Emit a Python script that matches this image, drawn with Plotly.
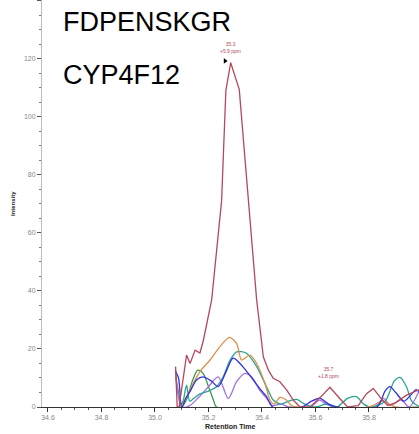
import plotly.graph_objects as go

# ---- data ----
red_x = [35.077, 35.083, 35.09, 35.118, 35.131, 35.15, 35.168, 35.181, 35.212, 35.249, 35.265, 35.283,
         35.315, 35.349, 35.38, 35.405, 35.424, 35.442, 35.467, 35.492, 35.517, 35.542, 35.58, 35.62,
         35.654, 35.69, 35.72, 35.76, 35.79, 35.816, 35.845, 35.87, 35.9, 35.94, 35.99]
red_y = [13.9, 0, 0, 17.9, 15, 19.6, 18.6, 23, 37, 71, 109, 118.6,
         109.4, 71.3, 37, 17.3, 12.7, 9.9, 8.7, 5.9, 2.4, 0, 0, 3.5,
         6.8, 3, 0, 0.5, 4.5, 6.4, 3, 0.5, 1.5, 4.1, 6]

orange_x = [35.09, 35.11, 35.131, 35.168, 35.206, 35.243, 35.278, 35.305, 35.324, 35.355, 35.38, 35.411,
            35.43, 35.445, 35.467, 35.49, 35.51, 35.53, 35.8, 35.85, 35.9, 35.99]
orange_y = [0, 2, 5.9, 12.2, 16.2, 20.8, 24, 21.9, 16.2, 17.9, 15, 8.2,
            2.4, 1, 3.3, 2.5, 0.5, 0, 0, 2, 0, 0]

teal_x = [35.09, 35.105, 35.118, 35.13, 35.145, 35.168, 35.2, 35.23, 35.255, 35.28, 35.305, 35.342,
          35.38, 35.417, 35.442, 35.47, 35.5, 35.53, 35.56, 35.6, 35.64, 35.68, 35.72, 35.753,
          35.78, 35.81, 35.86, 35.895, 35.916, 35.94, 35.96, 35.99]
teal_y = [0, 2, 7.5, 2, 3, 4.5, 5.5, 7, 10.4, 16, 19, 18.5,
          13.9, 7, 2.4, 1, 2, 2.6, 1, 0, 1, 0, 3, 3.6,
          1, 0, 2, 9, 10.2, 7, 2, 0]

blue_x = [35.077, 35.088, 35.1, 35.115, 35.135, 35.155, 35.18, 35.21, 35.236, 35.265, 35.292, 35.318,
          35.345, 35.368, 35.395, 35.417, 35.44, 35.55, 35.585, 35.617, 35.65, 35.68, 35.83, 35.86,
          35.878, 35.9, 35.93, 35.955, 35.976, 35.99]
blue_y = [12.2, 10, 0, 3, 6, 9.3, 10.4, 9, 7, 12, 16.8, 15,
          12, 9.3, 6, 3.6, 0, 0, 2, 3, 1, 0, 0, 5.5,
          7, 5, 2, 4, 6, 5]

purple_x = [35.077, 35.1, 35.13, 35.16, 35.2, 35.236, 35.274, 35.305, 35.336, 35.36, 35.39, 35.417,
            35.44, 35.47, 35.5, 35.58, 35.615, 35.64, 35.67, 35.82, 35.855, 35.88, 35.92, 35.95, 35.99]
purple_y = [12.7, 0, 0.5, 3, 7, 10.4, 3, 8.7, 11.6, 10.5, 6, 3,
            0.5, 1, 0, 0, 2.4, 1, 0, 0, 3, 0.5, 2.5, 0, 6]

green_x = [35.077, 35.09, 35.1, 35.12, 35.14, 35.16, 35.18, 35.2, 35.22, 35.23, 35.99]
green_y = [10.4, 4, 0, 3, 9, 12.7, 11.6, 7, 2, 0, 0]

series = [
    ("green", green_x, green_y, "#3a9a4a", "spline"),
    ("purple", purple_x, purple_y, "#a070e0", "spline"),
    ("teal", teal_x, teal_y, "#2aa391", "spline"),
    ("orange", orange_x, orange_y, "#d9914a", "spline"),
    ("blue", blue_x, blue_y, "#3333dd", "spline"),
    ("red", red_x, red_y, "#b5485a", "linear"),
]

peak_labels = [(35.283, 121.0, "35.3<br>+5.9 ppm"), (35.647, 9.0, "35.7<br>+1.8 ppm")]
marker_pos = ([35.262], [119.2])

fig = go.Figure()
for name, xs, ys, col, shape in series:
    fig.add_trace(go.Scatter(x=xs, y=ys, mode="lines", name=name,
                             line=dict(color=col, width=1.3, shape=shape, smoothing=0.8),
                             showlegend=False, hoverinfo="skip"))

fig.add_trace(go.Scatter(x=marker_pos[0], y=marker_pos[1], mode="markers",
                         marker=dict(symbol="triangle-right", size=5, color="black"),
                         showlegend=False, hoverinfo="skip"))

annotations = []
for x, y, t in peak_labels:
    annotations.append(dict(x=x, y=y, xref="x", yref="y", text=t, showarrow=False,
                            yanchor="bottom", xanchor="center",
                            font=dict(size=5, color="#b5485a", family="Liberation Sans, Arial")))

annotations += [
    dict(x=0.0505, y=0.946, xref="paper", yref="paper", text="FDPENSKGR", showarrow=False,
         xanchor="left", yanchor="middle", font=dict(size=27, color="black", family="Liberation Sans, Arial")),
    dict(x=0.0505, y=0.815, xref="paper", yref="paper", text="CYP4F12", showarrow=False,
         xanchor="left", yanchor="middle", font=dict(size=27, color="black", family="Liberation Sans, Arial")),
    dict(x=0.5, y=-0.047, xref="paper", yref="paper", text="<b>Retention Time</b>", showarrow=False,
         xanchor="center", yanchor="middle", font=dict(size=7, color="#222", family="Liberation Sans, Arial")),
    dict(x=-0.078, y=0.5, xref="paper", yref="paper", text="<b>Intensity</b>", showarrow=False,
         textangle=-90, xanchor="center", yanchor="middle",
         font=dict(size=6, color="#222", family="Liberation Sans, Arial")),
]

fig.update_layout(
    width=419, height=434,
    margin=dict(l=42, r=0, t=0, b=27),
    paper_bgcolor="white", plot_bgcolor="white",
    annotations=annotations,
    xaxis=dict(range=[34.5776, 35.987], tickvals=[34.6, 34.8, 35.0, 35.2, 35.4, 35.6, 35.8],
               ticktext=["34.6", "34.8", "35.0", "35.2", "35.4", "35.6", "35.8"],
               showgrid=False, zeroline=False, showline=True, linecolor="#333", linewidth=1,
               ticks="outside", ticklen=4, tickcolor="#333",
               minor=dict(dtick=0.05, tick0=34.6, ticks="outside", ticklen=2, tickcolor="#555"),
               tickfont=dict(size=7, color="#888", family="Liberation Sans, Arial")),
    yaxis=dict(range=[0, 140.2], tickvals=[0, 20, 40, 60, 80, 100, 120, 140],
               showgrid=False, zeroline=False, showline=True, linecolor="#bbb", linewidth=1,
               ticks="outside", ticklen=4, tickcolor="#555",
               minor=dict(dtick=5, tick0=0, ticks="outside", ticklen=2, tickcolor="#777"),
               tickfont=dict(size=7, color="#888", family="Liberation Sans, Arial")),
)

fig.write_html("out.html", config={"displayModeBar": False},
               post_script="document.body.style.margin='0';")
